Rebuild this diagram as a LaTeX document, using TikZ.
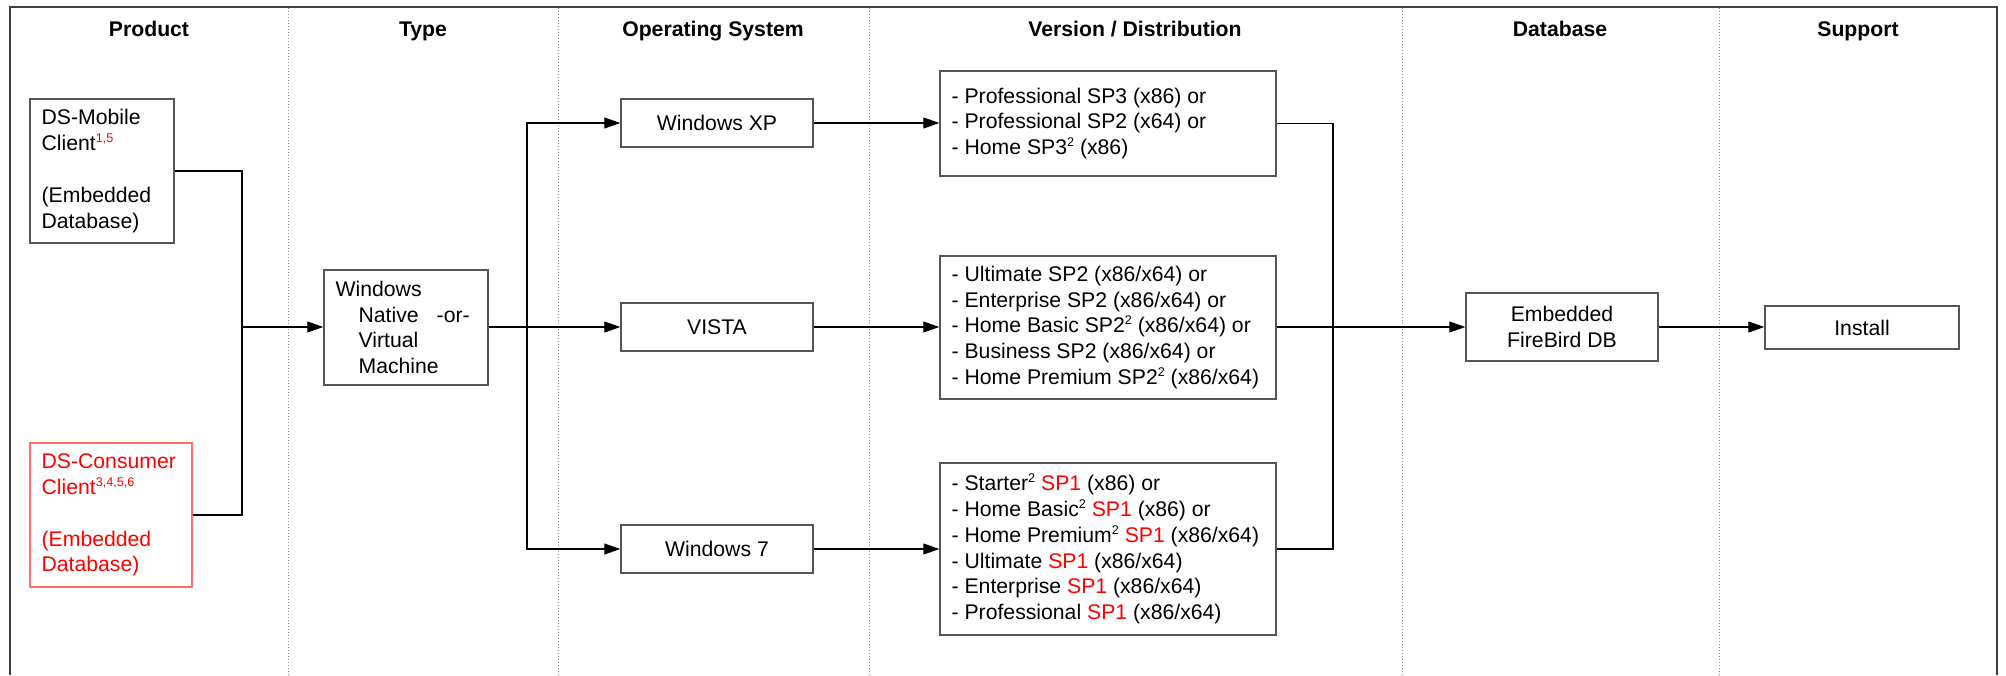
\documentclass[tikz,border=0pt]{standalone}
\usepackage{fontspec}
\setmainfont{Liberation Sans}
\usetikzlibrary{arrows.meta,calc}
\definecolor{boxc}{RGB}{85,85,85}
\definecolor{conc}{RGB}{255,110,110}
\definecolor{sred}{RGB}{255,0,0}
\newcommand\sups[1]{\raisebox{4pt}{\fontsize{6.3}{7}\selectfont #1}}
\newcommand\bodyf{\fontsize{10.6}{12.9}\selectfont}
\newcommand\rsp{\textcolor{sred}{SP1}}
\begin{document}
\begin{tikzpicture}[x=0.5pt,y=-0.5pt,
  box/.style={draw=boxc,line width=0.75pt,inner sep=0pt,font=\bodyf,align=center},
  txt/.style={inner sep=0pt,font=\bodyf,align=left,anchor=west},
  coltitle/.style={font=\bfseries\fontsize{10.6}{12}\selectfont,inner sep=0pt,anchor=base},
  conn/.style={line width=0.55pt,draw=black},
  arr/.style={-{Triangle[length=8pt,width=5.5pt]}},
  sepline/.style={draw=black!45,line width=0.5pt,densely dotted},
  frameline/.style={draw=black!75,line width=0.75pt}]
\useasboundingbox (0,0) rectangle (2006,675);
\fill[white] (0,0) rectangle (2006,675);

% frame and lane separators
\draw[frameline] (10,675) -- (10,7) -- (1997,7) -- (1997,675);
\foreach \xx in {288,558,869,1402,1719}{\draw[sepline] (\xx,8) -- (\xx,675);}

% titles
\node[coltitle] (t1) at (149,36) {Product};
\node[coltitle] (t2) at (423,36) {Type};
\node[coltitle] (t3) at (713,36) {Operating System};
\node[coltitle] (t4) at (1135,36) {Version / Distribution};
\node[coltitle] (t5) at (1560,36) {Database};
\node[coltitle] (t6) at (1858,36) {Support};

% product boxes
\node[box,minimum width=72pt,minimum height=72pt] (mob) at (102,171) {};
\node[txt] (mobt) at ($(mob.west)+(12,0)$) {DS-Mobile\\Client\sups{\textcolor{sred}{1,5}}\\[12.9pt](Embedded\\Database)};
\node[box,draw=conc,minimum width=81pt,minimum height=72pt] (con) at (111,515) {};
\node[txt,text=sred] (cont) at ($(con.west)+(12,0)$) {DS-Consumer\\Client\sups{3,4,5,6}\\[12.9pt](Embedded\\Database)};

% type box
\node[box,minimum width=82pt,minimum height=57.5pt] (win) at (406,327.5) {};
\node[txt] (wint) at ($(win.west)+(12,0)$) {Windows\\\hspace*{11.5pt}Native\hspace{9pt}-or-\\\hspace*{11.5pt}Virtual\\\hspace*{11.5pt}Machine};

% OS boxes
\node[box,minimum width=96pt,minimum height=24pt] (xp) at (717,123) {Windows XP};
\node[box,minimum width=96pt,minimum height=24pt] (vista) at (717,327) {VISTA};
\node[box,minimum width=96pt,minimum height=24pt] (w7) at (717,549) {Windows 7};

% version boxes
\node[box,minimum width=168pt,minimum height=52.5pt] (vxp) at (1108,123.5) {};
\node[txt] (vxpt) at ($(vxp.west)+(12,0)$) {- Professional SP3 (x86) or\\- Professional SP2 (x64) or\\- Home SP3\sups{2} (x86)};
\node[box,minimum width=168pt,minimum height=71.5pt] (vvista) at (1108,327.5) {};
\node[txt] (vvistat) at ($(vvista.west)+(12,0)$) {- Ultimate SP2 (x86/x64) or\\- Enterprise SP2 (x86/x64) or\\- Home Basic SP2\sups{2} (x86/x64) or\\- Business SP2 (x86/x64) or\\- Home Premium SP2\sups{2} (x86/x64)};
\node[box,minimum width=168pt,minimum height=86pt] (vw7) at (1108,549) {};
\node[txt] (vw7t) at ($(vw7.west)+(12,0)$) {- Starter\sups{2} \rsp{} (x86) or\\- Home Basic\sups{2} \rsp{} (x86) or\\- Home Premium\sups{2} \rsp{} (x86/x64)\\- Ultimate \rsp{} (x86/x64)\\- Enterprise \rsp{} (x86/x64)\\- Professional \rsp{} (x86/x64)};

% database and support
\node[box,minimum width=96pt,minimum height=34pt] (fb) at (1562,327) {Embedded\\FireBird DB};
\node[box,minimum width=97pt,minimum height=21.5pt] (inst) at (1862,327.5) {Install};

% connectors
\coordinate (jL) at (242,327);
\coordinate (jO) at (527,327);
\coordinate (jV) at (1333,327);
\draw[conn] (mob.east) -| (jL);
\draw[conn] (con.east) -| (jL);
\draw[conn,arr] (jL) -- (jL -| win.west);
\draw[conn] (win.east |- jO) -- (jO);
\draw[conn,arr] (jO) |- (xp.west);
\draw[conn,arr] (jO) -- (jO -| vista.west);
\draw[conn,arr] (jO) |- (w7.west);
\draw[conn,arr] (xp.east) -- (xp.east -| vxp.west);
\draw[conn,arr] (vista.east) -- (vista.east -| vvista.west);
\draw[conn,arr] (w7.east) -- (w7.east -| vw7.west);
\draw[conn] (vxp.east) -| (jV);
\draw[conn] (vw7.east) -| (jV);
\draw[conn,arr] (vvista.east |- jV) -- (jV -| fb.west);
\draw[conn,arr] (fb.east) -- (fb.east -| inst.west);
\end{tikzpicture}
\end{document}
